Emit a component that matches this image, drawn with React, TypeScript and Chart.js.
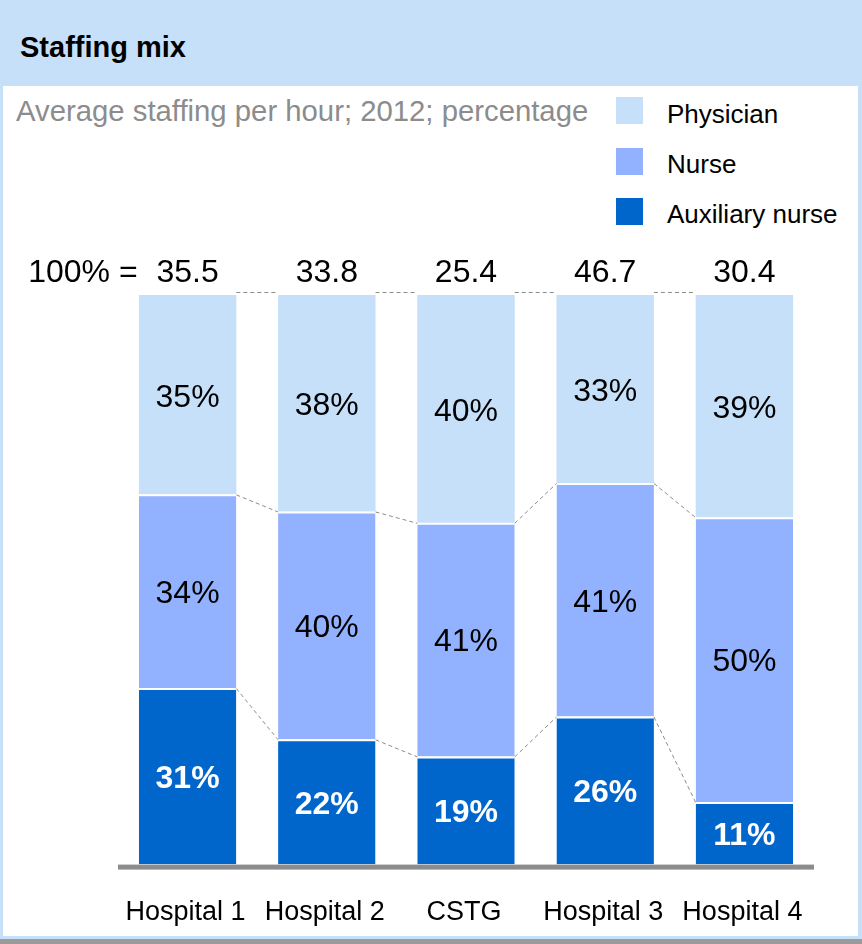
import React, { useEffect, useRef } from "react";
import { Chart, registerables } from "chart.js";

Chart.register(...registerables);

const categories = ["Hospital 1", "Hospital 2", "CSTG", "Hospital 3", "Hospital 4"];
const totals = [35.5, 33.8, 25.4, 46.7, 30.4];
const auxiliaryNurse = [31, 22, 19, 26, 11];
const nurse = [34, 40, 41, 41, 50];
const physician = [35, 38, 40, 33, 39];
const seriesNames = ["Auxiliary nurse", "Nurse", "Physician"];
const seriesColors = ["#0066CC", "#92B1FE", "#C6E0FA"];
const labelColors = ["#FFFFFF", "#000000", "#000000"];
const labelWeights = ["bold", "normal", "normal"];

const FONT = "'Liberation Sans', Arial, Helvetica, sans-serif";

const overlayPlugin = {
  id: "overlay",
  afterDatasetsDraw(chart: any) {
    const ctx = chart.ctx;
    const area = chart.chartArea;
    const metas = [0, 1, 2].map((d) => chart.getDatasetMeta(d));
    ctx.save();
    // baseline
    ctx.fillStyle = "#8C8C8C";
    ctx.fillRect(area.left, area.bottom, area.right - area.left, 5);

    // dashed connectors
    ctx.strokeStyle = "#8C8C8C";
    ctx.lineWidth = 1;
    ctx.setLineDash([4, 3]);
    const n = categories.length;
    for (let i = 0; i < n - 1; i++) {
      for (let d = 0; d < 3; d++) {
        const a = metas[d].data[i];
        const b = metas[d].data[i + 1];
        const xa = a.x + a.width / 2;
        const xb = b.x - b.width / 2;
        let ya = a.y;
        let yb = b.y;
        if (d === 2) {
          ya -= 3;
          yb -= 3;
        }
        ctx.beginPath();
        ctx.moveTo(xa, ya + 0.5);
        ctx.lineTo(xb, yb + 0.5);
        ctx.stroke();
      }
    }
    ctx.setLineDash([]);

    // segment labels
    ctx.textAlign = "center";
    ctx.textBaseline = "middle";
    const dsData = [auxiliaryNurse, nurse, physician];
    for (let d = 0; d < 3; d++) {
      ctx.font = `${labelWeights[d]} 32px ${FONT}`;
      ctx.fillStyle = labelColors[d];
      metas[d].data.forEach((bar: any, i: number) => {
        const cy = (bar.y + bar.base) / 2 + 3;
        ctx.fillText(`${dsData[d][i]}%`, bar.x, cy);
      });
    }

    // totals
    ctx.font = `normal 32px ${FONT}`;
    ctx.fillStyle = "#000000";
    ctx.textBaseline = "alphabetic";
    metas[0].data.forEach((bar: any, i: number) => {
      ctx.fillText(totals[i].toFixed(1), bar.x, area.top - 13);
    });
    ctx.textAlign = "right";
    ctx.fillText("100% =", metas[0].data[0].x - 50, area.top - 13);
    ctx.restore();
  },
};

export default function App() {
  const ref = useRef<HTMLCanvasElement | null>(null);
  useEffect(() => {
    document.body.style.margin = "0";
    const canvas = ref.current;
    if (!canvas) return;
    const data = [auxiliaryNurse, nurse, physician];
    const chart = new Chart(canvas, {
      type: "bar",
      data: {
        labels: categories,
        datasets: data.map((values, d) => ({
          label: seriesNames[d],
          data: values,
          backgroundColor: seriesColors[d],
          borderColor: "#FFFFFF",
          borderWidth: d < 2 ? { top: 2, left: 0, right: 0, bottom: 0 } : 0,
          borderSkipped: "start",
          categoryPercentage: 1,
          barPercentage: 0.7,
        })),
      },
      options: {
        responsive: false,
        animation: false,
        devicePixelRatio: 1,
        layout: { padding: { top: 55, bottom: 0, left: 118, right: 48 } },
        plugins: {
          legend: { display: false },
          tooltip: { enabled: false },
          title: { display: false },
        },
        scales: {
          x: {
            stacked: true,
            grid: { display: false, drawTicks: false },
            border: { display: false },
            ticks: {
              color: "#000000",
              font: { family: FONT, size: 27 },
              padding: 32,
              maxRotation: 0,
              autoSkip: false,
              labelOffset: -2,
            },
          },
          y: {
            stacked: true,
            display: false,
            min: 0,
            max: 100,
          },
        },
      },
      plugins: [overlayPlugin],
    });
    return () => chart.destroy();
  }, []);

  const legendTops = [100.7, 150.7, 200.7];
  const squareTops = [97, 148, 198];
  const legendItems = [2, 1, 0];

  return (
    <div
      style={{
        position: "relative",
        width: 862,
        height: 944,
        overflow: "hidden",
        background: "#FFFFFF",
        fontFamily: FONT,
      }}
    >
      <canvas
        ref={ref}
        width={862}
        height={721}
        style={{ position: "absolute", left: 0, top: 240, width: 862, height: 721, display: "block" }}
      />
      <div style={{ position: "absolute", left: 0, top: 0, width: 862, height: 86, background: "#C7E0F9" }} />
      <div
        style={{
          position: "absolute",
          left: 20,
          top: 33,
          fontSize: 29,
          lineHeight: "29px",
          fontWeight: "bold",
          color: "#000000",
          whiteSpace: "nowrap",
        }}
      >
        Staffing mix
      </div>
      <div style={{ position: "absolute", left: 0, top: 86, width: 3, height: 858, background: "#C7E0F9" }} />
      <div style={{ position: "absolute", left: 858, top: 86, width: 4, height: 858, background: "#C7E0F9" }} />
      <div style={{ position: "absolute", left: 0, top: 936, width: 862, height: 3, background: "#C7E0F9" }} />
      <div style={{ position: "absolute", left: 0, top: 939, width: 862, height: 5, background: "#9A9A9A" }} />
      <div
        style={{
          position: "absolute",
          left: 16,
          top: 96.2,
          fontSize: 29.3,
          lineHeight: "29px",
          color: "#8C8C8C",
          whiteSpace: "nowrap",
        }}
      >
        Average staffing per hour; 2012; percentage
      </div>
      {legendItems.map((d, k) => (
        <React.Fragment key={seriesNames[d]}>
          <div
            style={{
              position: "absolute",
              left: 616,
              top: squareTops[k],
              width: 27,
              height: 27,
              background: seriesColors[d],
            }}
          />
          <div
            style={{
              position: "absolute",
              left: 667,
              top: legendTops[k],
              fontSize: 26,
              lineHeight: "26px",
              color: "#000000",
              whiteSpace: "nowrap",
            }}
          >
            {seriesNames[d]}
          </div>
        </React.Fragment>
      ))}
    </div>
  );
}
